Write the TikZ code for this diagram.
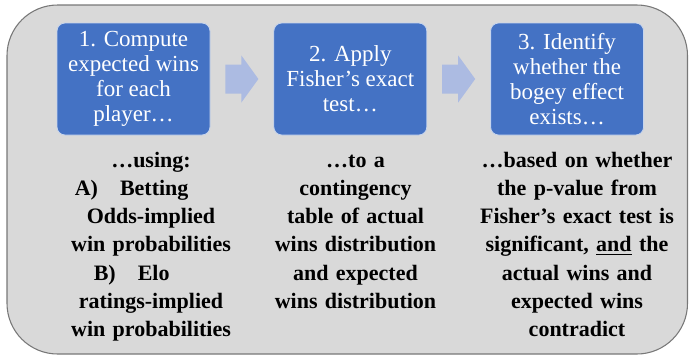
\documentclass[tikz,border=0pt]{standalone}
\usepackage{fontspec}
\setmainfont{Liberation Serif}
\usetikzlibrary{positioning,calc}

\definecolor{stepblue}{HTML}{4472C4}
\definecolor{flowblue}{RGB}{172,187,226}
\definecolor{panelgray}{RGB}{217,217,217}
\definecolor{panelline}{RGB}{120,120,120}

\begin{document}
\begin{tikzpicture}[
  x=0.75pt, y=-0.75pt,
  node distance=47.25pt,
  stepbox/.style={rectangle, rounded corners=6pt, fill=stepblue, draw=white!70!stepblue, line width=0.6pt, text=white, align=center, minimum width=114.75pt, minimum height=84pt, inner sep=2pt, font=\fontsize{17.25}{18.75}\selectfont},
  note/.style={text width=#1, align=center, anchor=base, inner sep=0pt, font=\fontsize{16.5}{21.2}\selectfont\bfseries},
  note/.default=135pt,
  flow/.style={fill=flowblue}
]
\useasboundingbox (0,0) rectangle (689,358);
% grey panel behind the three steps
\draw[panelline, fill=panelgray, line width=0.8pt, rounded corners=38pt] (7,5) rectangle (687.5,354);

% the three steps
\node[stepbox] (compute) at (133.5,79) {1. Compute\\expected wins\\for each\\player…};
\node[stepbox, right=of compute] (apply) {2. Apply\\Fisher’s exact\\test…};
\node[stepbox, right=of apply] (identify) {3. Identify\\whether the\\bogey effect\\exists…};

% block arrows between the steps
\foreach \a/\b in {compute/apply, apply/identify} {
  \coordinate (mid) at ($(\a.east)!0.5!(\b.west)$);
  \fill[flow] ([shift={(-16.5,-14.5)}]mid) -- ++(16,0) -- ++(0,-9) -- ++(17,23.5) -- ++(-17,23.5) -- ++(0,-9) -- ++(-16,0) -- cycle;
}

% notes under each step
\node[note] (using) at (151,167) {…using:\\A)\quad Betting\hspace*{29pt}\mbox{}\\Odds-implied\\win probabilities\\B)\quad Elo\hspace*{29pt}\mbox{}\\ratings-implied\\win probabilities};
\node[note] (table) at (355.5,167) {…to a\\contingency\\table of actual\\wins distribution\\and expected\\wins distribution};
\node[note=160pt] (verdict) at (577,167) {…based on whether\\the p-value from\\Fisher’s exact test is\\significant, \underline{and} the\\actual wins and\\expected wins\\contradict};
\end{tikzpicture}
\end{document}
